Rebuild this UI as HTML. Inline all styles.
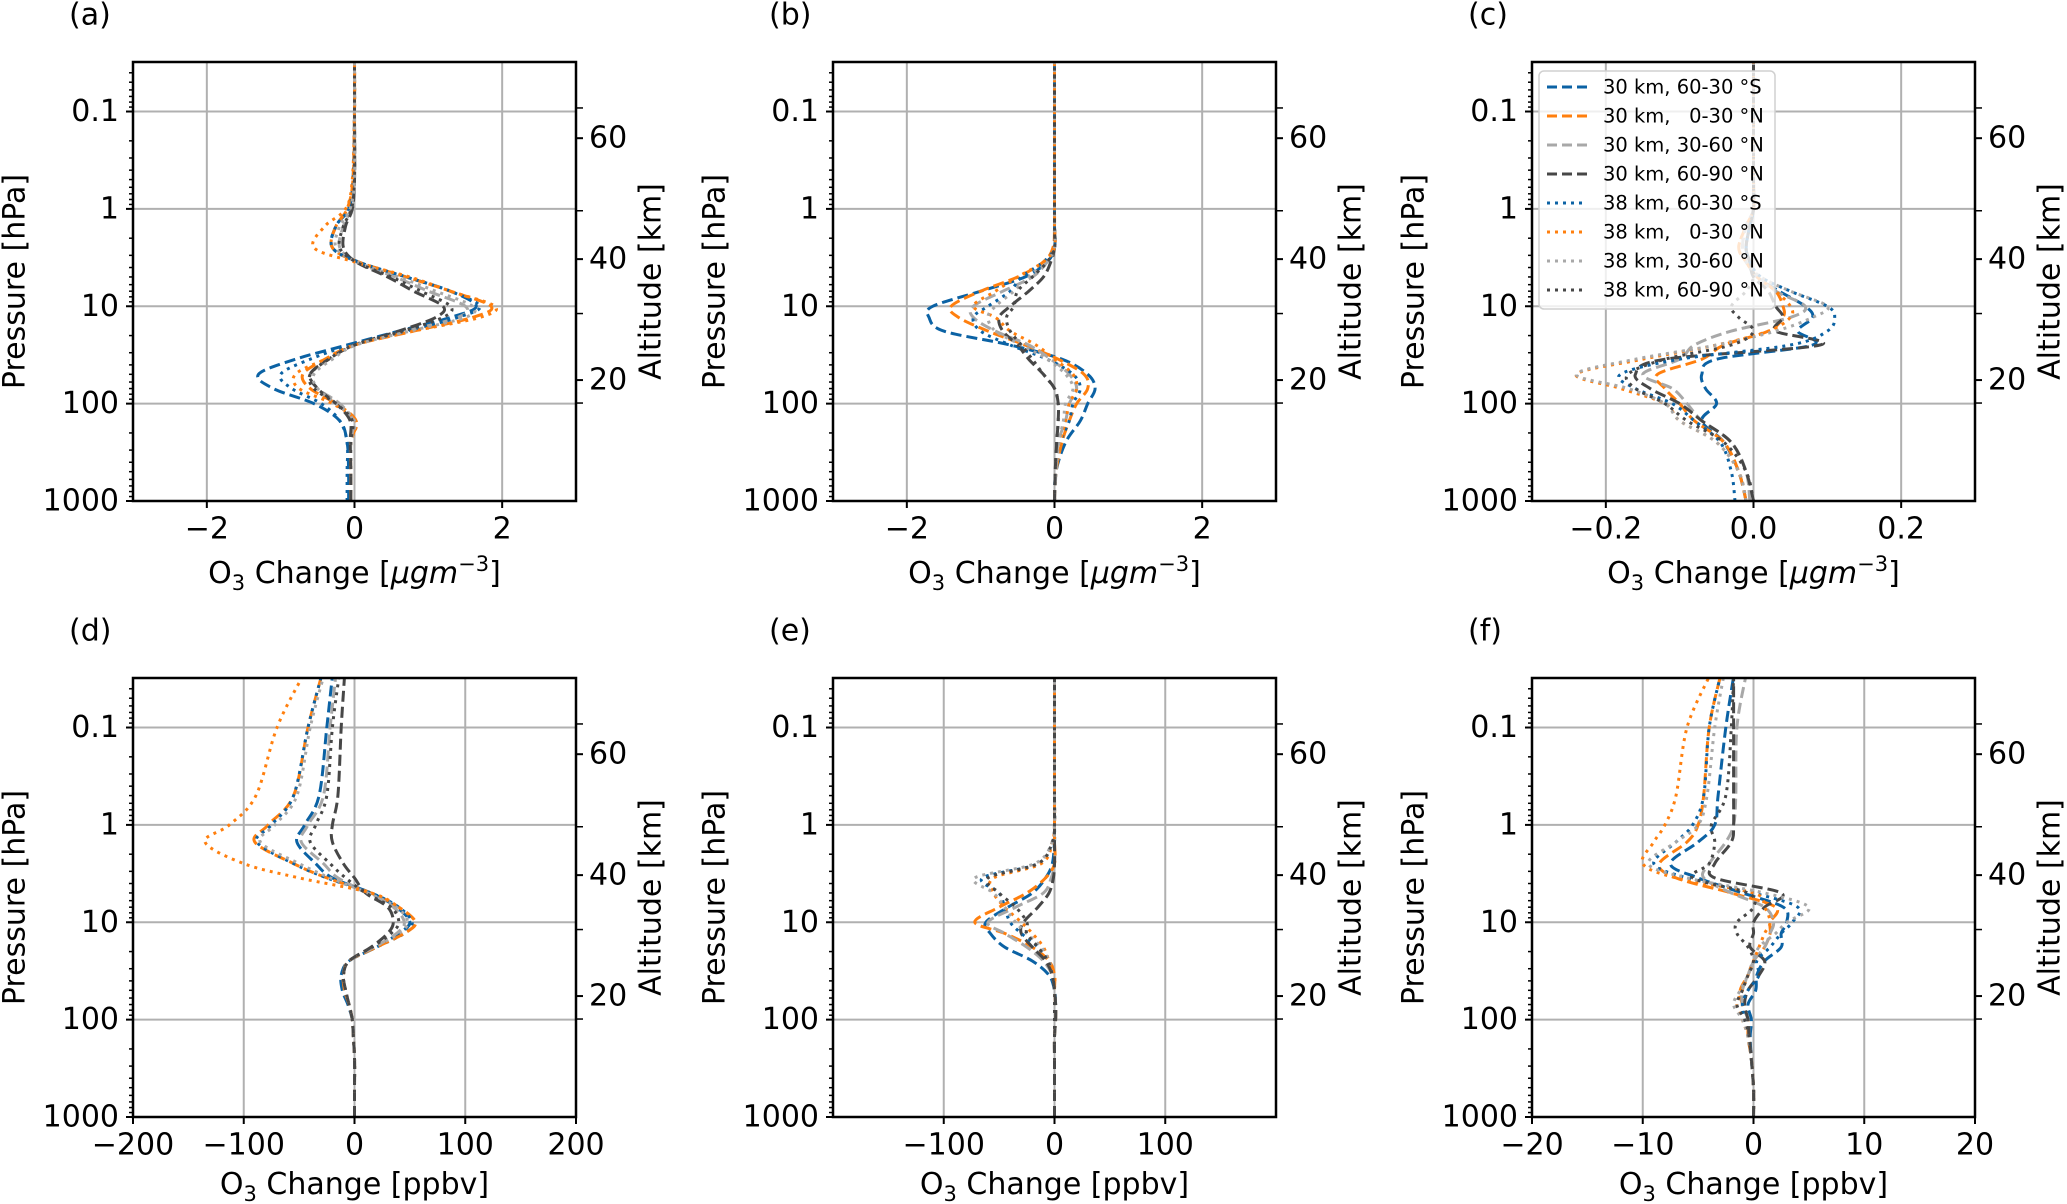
<!DOCTYPE html>
<html><head><meta charset="utf-8"><style>
html,body{margin:0;padding:0;background:#fff;}
svg{display:block;font-family:"DejaVu Sans","Liberation Sans",sans-serif;}
</style></head><body>
<svg id="fig" width="2067" height="1204" viewBox="0 0 2067 1204" xmlns="http://www.w3.org/2000/svg"></svg>
<script>
const levels = [1000,500,250,150,100,70,50,35,25,18,13,10,7,5,3.5,2.5,1.5,1,0.5,0.1,0.03];
const seriesLabels = ["30 km, 60-30 °S","30 km,   0-30 °N","30 km, 30-60 °N","30 km, 60-90 °N","38 km, 60-30 °S","38 km,   0-30 °N","38 km, 30-60 °N","38 km, 60-90 °N"];
const panelAValues = [
 [-0.08,-0.08,-0.1,-0.2,-0.55,-1.1,-1.3,-0.8,-0.1,0.6,1.3,1.65,1.3,0.7,0.05,-0.3,-0.25,-0.08,-0.02,0,0],
 [-0.05,-0.05,-0.05,0.02,-0.25,-0.6,-0.7,-0.4,0.0,0.8,1.6,1.85,1.3,0.7,0.05,-0.3,-0.25,-0.1,-0.02,0,0],
 [-0.05,-0.05,-0.05,-0.02,-0.2,-0.5,-0.6,-0.35,0.0,0.7,1.4,1.5,1.0,0.55,0.03,-0.2,-0.15,-0.05,0,0,0],
 [-0.05,-0.05,-0.06,-0.06,-0.25,-0.5,-0.6,-0.35,0.0,0.6,1.1,1.2,0.8,0.45,0.02,-0.15,-0.12,-0.03,0,0,0],
 [-0.1,-0.1,-0.1,-0.2,-0.45,-0.85,-1.0,-0.6,-0.05,0.7,1.4,1.7,1.3,0.7,0.05,-0.3,-0.25,-0.08,-0.02,0,0],
 [-0.05,-0.05,-0.05,0.02,-0.3,-0.75,-0.8,-0.4,0.0,0.8,1.7,1.9,1.3,0.75,0.0,-0.55,-0.4,-0.12,-0.03,0,0],
 [-0.05,-0.05,-0.05,0,-0.25,-0.5,-0.55,-0.3,0.02,0.75,1.5,1.6,1.1,0.6,0.03,-0.25,-0.2,-0.06,0,0,0],
 [-0.05,-0.05,-0.05,-0.03,-0.25,-0.55,-0.6,-0.35,0.0,0.65,1.2,1.3,0.9,0.5,0.02,-0.2,-0.15,-0.04,0,0,0]];
const panelBValues = [
 [0,0.02,0.15,0.35,0.45,0.55,0.45,0.1,-0.6,-1.5,-1.7,-1.65,-1.0,-0.4,-0.1,0,0,0,0,0,0],
 [0,0.02,0.1,0.2,0.3,0.45,0.4,0.05,-0.4,-0.9,-1.3,-1.4,-1.0,-0.5,-0.15,-0.02,0,0,0,0,0],
 [0,0.02,0.05,0.15,0.2,0.3,0.2,-0.05,-0.35,-0.8,-1.1,-1.1,-0.7,-0.3,-0.1,0,0,0,0,0,0],
 [0,0.01,0.03,0.05,0.05,0.0,-0.15,-0.35,-0.5,-0.7,-0.75,-0.6,-0.35,-0.15,-0.05,0,0,0,0,0,0],
 [0,0.02,0.08,0.2,0.25,0.35,0.25,-0.1,-0.6,-1.0,-1.1,-0.9,-0.6,-0.45,-0.15,0,0,0,0,0,0],
 [0,0.02,0.08,0.15,0.2,0.3,0.25,0.0,-0.25,-0.6,-0.8,-1.1,-0.8,-0.5,-0.15,0,0,0,0,0,0],
 [0,0.02,0.06,0.12,0.15,0.25,0.15,-0.1,-0.45,-0.8,-0.9,-0.8,-0.55,-0.35,-0.1,0,0,0,0,0,0],
 [0,0.01,0.03,0.05,0.05,0.0,-0.15,-0.3,-0.45,-0.6,-0.65,-0.55,-0.5,-0.3,-0.1,0,0,0,0,0,0]];
const panelCValues = [
 [-0.01,-0.02,-0.04,-0.07,-0.05,-0.065,-0.07,-0.05,0.08,0.06,0.08,0.07,0.035,0.005,-0.005,-0.01,-0.005,0,0,0,0],
 [-0.01,-0.02,-0.04,-0.08,-0.1,-0.12,-0.13,-0.07,-0.04,0.02,0.04,0.04,0.03,0.005,-0.01,-0.02,-0.01,0,0,0,0],
 [-0.005,-0.01,-0.03,-0.07,-0.09,-0.11,-0.15,-0.1,-0.08,-0.03,0.05,0.07,0.03,0.005,-0.01,-0.015,-0.01,0,0,0,0],
 [0,-0.01,-0.03,-0.07,-0.1,-0.14,-0.16,-0.12,0.09,0.03,0.04,0.03,0.02,0,-0.005,-0.01,-0.005,0,0,0,0],
 [-0.025,-0.03,-0.045,-0.08,-0.11,-0.16,-0.18,-0.1,0.05,0.1,0.11,0.1,0.05,0.01,-0.005,-0.01,-0.005,0,0,0,0],
 [-0.01,-0.02,-0.05,-0.1,-0.12,-0.18,-0.24,-0.15,-0.05,0.02,0.05,0.05,0.03,0.005,-0.01,-0.02,-0.01,0,0,0,0],
 [-0.01,-0.02,-0.05,-0.1,-0.12,-0.17,-0.24,-0.16,-0.05,0.03,0.08,0.1,0.05,0.01,-0.01,-0.015,-0.01,0,0,0,0],
 [0,-0.01,-0.04,-0.09,-0.12,-0.16,-0.17,-0.12,-0.03,0.0,-0.02,-0.03,-0.01,0,-0.005,-0.01,-0.005,0,0,0,0]];
const panelDValues = [
 [0,0,0,-1,-2,-6,-11,-12,-5,20,40,50,38,15,-20,-35,-52,-45,-32,-25,-20],
 [0,0,0,-1,-2,-5,-9,-10,-5,20,45,55,40,15,-25,-55,-90,-78,-55,-42,-30],
 [0,0,0,-1,-2,-5,-8,-10,-5,18,38,45,35,12,-15,-28,-48,-42,-28,-22,-17],
 [0,0,0,-1,-2,-5,-8,-10,-5,15,30,35,30,10,0,-10,-20,-20,-15,-12,-9],
 [0,0,0,-1,-2,-5,-9,-10,-5,20,45,52,40,15,-25,-55,-88,-75,-55,-42,-30],
 [0,0,0,-1,-2,-5,-9,-10,-5,20,45,55,40,15,-50,-100,-135,-113,-89,-70,-47],
 [0,0,0,-1,-2,-5,-8,-10,-5,18,40,48,38,12,-22,-50,-85,-72,-52,-40,-28],
 [0,0,0,-1,-2,-5,-8,-10,-5,16,33,40,33,10,-8,-22,-40,-35,-25,-20,-14]];
const panelEValues = [
 [0,0,0,0,1,1,0,-5,-20,-45,-58,-62,-42,-20,-8,-2,0,0,0,0,0],
 [0,0,0,0,1,1,0,0,-5,-20,-45,-72,-50,-25,-8,0,0,0,0,0,0],
 [0,0,0,0,1,1,0,-2,-10,-25,-45,-60,-35,-10,-3,0,0,0,0,0,0],
 [0,0,0,0,1,1,0,-2,-8,-20,-30,-28,-15,-5,-1,0,0,0,0,0,0],
 [0,0,0,0,0,0,0,-2,-5,-15,-30,-40,-45,-50,-65,-15,-2,0,0,0,0],
 [0,0,0,0,0,0,0,0,-5,-10,-20,-30,-45,-55,-55,-12,-2,0,0,0,0],
 [0,0,0,0,0,0,0,-2,-5,-12,-25,-35,-45,-55,-72,-18,-2,0,0,0,0],
 [0,0,0,0,0,0,0,-2,-6,-15,-25,-25,-35,-50,-60,-15,-2,0,0,0,0]];
const panelFValues = [
 [0,0,-0.2,-0.3,-0.2,-0.5,0.2,0.3,1,2.5,2.5,3,2.7,-1,-5,-7.5,-5,-3.5,-3.2,-2.5,-1.8],
 [0,0,-0.2,-0.5,-0.5,-1,-1.2,-0.5,0,1,1.5,1.5,2,-2,-7,-8.5,-6,-5,-4.5,-4,-3],
 [0,0,-0.2,-0.4,-0.5,-1,-1,-0.5,0,1,1.5,1.8,1,-2,-4.5,-4,-2.5,-1.8,-1.6,-1.5,-0.7],
 [0,0,-0.2,-0.4,-0.5,-0.8,-0.5,0.5,1,-0.3,0,0,1,2.5,-3.5,-3.5,-2,-1.8,-1.8,-1.8,-1.8],
 [0,0,-0.2,-0.5,-0.8,-1,-0.5,0.5,0.3,1.5,2.5,3.5,4,0,-6,-9,-7,-5.5,-4.5,-4,-3],
 [0,0,-0.2,-0.5,-1,-1.5,-1,-0.5,0,0.5,1,1.5,1,0,-7,-10,-9,-8,-7,-6,-4],
 [0,0,-0.2,-0.5,-1,-1.8,-1.2,-0.5,0,0.5,2,3,5,1,-6,-9.5,-7,-5,-4.2,-3.5,-2.7],
 [0,0,-0.2,-0.4,-0.8,-1.5,-1,-0.5,0,-0.5,-1.5,-1.5,0,-0.5,-5.5,-4,-3.5,-3.8,-2.5,-2,-1.8]];
const xTicksA = [-2,0,2], xTicksC = [-0.2,0,0.2], xTicksD = [-200,-100,0,100,200], xTicksE = [-100,0,100], xTicksF = [-20,-10,0,10,20];
const pressureTicks = [0.1,1,10,100,1000];
const altitudeTicks = [20,40,60];

const NS="http://www.w3.org/2000/svg";
const fig=document.getElementById('fig');
function el(tag,attrs,parent){const e=document.createElementNS(NS,tag);for(const k in attrs)e.setAttribute(k,attrs[k]);(parent||fig).appendChild(e);return e;}
const colors=['#0b62a4','#ff7f0e','#a8a8a8','#474747','#0b62a4','#ff7f0e','#a8a8a8','#474747'];
const W=443,H=439,PTOP=0.031,PBOT=1000;
function fmt(v,dec){if(v===0)return dec?'0.0':'0';let s=dec?Math.abs(v).toFixed(1):String(Math.abs(v));return (v<0?'\u2212':'')+s;}

function panel(cfg){
  const L=cfg.left,T=cfg.top,R=L+W,B=T+H;
  const g=el('g',{});
  
  
  const xs=v=>L+(v-cfg.xmin)/(cfg.xmax-cfg.xmin)*W;
  const ys=p=>B-(Math.log10(PBOT)-Math.log10(p))/(Math.log10(PBOT)-Math.log10(PTOP))*H;
  const kmPx=H/72.6;
  cfg.ticks.forEach(t=>{const x=xs(t);const l=el('line',{x1:x,x2:x,y1:T,y2:B,stroke:'#b0b0b0','stroke-width':2},g);});
  pressureTicks.forEach(p=>{const y=ys(p);const l=el('line',{x1:L,x2:R,y1:y,y2:y,stroke:'#b0b0b0','stroke-width':2},g);});
  const cid='clip'+cfg.id;const cp=el('clipPath',{id:cid},g);el('rect',{x:L,y:T,width:W,height:H},cp);
  const lg=el('g',{'clip-path':'url(#'+cid+')'},g);
  cfg.values.forEach((vals,i)=>{
    const pts=vals.map((v,j)=>[xs(v),ys(levels[j])]);
    let d='M'+pts[0][0].toFixed(1)+','+pts[0][1].toFixed(1);
    for(let j=0;j<pts.length-1;j++){const p0=pts[Math.max(0,j-1)],p1=pts[j],p2=pts[j+1],p3=pts[Math.min(pts.length-1,j+2)];
      const c1=[p1[0]+(p2[0]-p0[0])/6,p1[1]+(p2[1]-p0[1])/6],c2=[p2[0]-(p3[0]-p1[0])/6,p2[1]-(p3[1]-p1[1])/6];
      d+=' C'+c1[0].toFixed(1)+','+c1[1].toFixed(1)+' '+c2[0].toFixed(1)+','+c2[1].toFixed(1)+' '+p2[0].toFixed(1)+','+p2[1].toFixed(1);}
    const path=el('path',{d:d,fill:'none',stroke:colors[i],'stroke-width':3,'stroke-dasharray':i<4?'11,5':'3,5'},lg);
    
    
  });
  const sp=el('rect',{x:L,y:T,width:W,height:H,fill:'none',stroke:'#000','stroke-width':2.5},g);
  
  cfg.ticks.forEach(t=>{const x=xs(t);el('line',{x1:x,x2:x,y1:B,y2:B+7,stroke:'#000','stroke-width':2},g);
    const tx=el('text',{x:x,y:B+28,'font-size':30,'text-anchor':'middle','dominant-baseline':'central'},g);tx.textContent=fmt(t,cfg.dec);
    });
  for(let e=-2;e<=3;e++){for(let m=1;m<10;m++){const p=m*Math.pow(10,e);if(p<PTOP||p>PBOT)continue;const y=ys(p);
    el('line',{x1:L,x2:L-(m===1?7:4),y1:y,y2:y,stroke:'#000','stroke-width':m===1?2:1.5},g);}}
  pressureTicks.forEach(p=>{const tx=el('text',{x:L-14,y:ys(p),'font-size':30,'text-anchor':'end','dominant-baseline':'central'},g);tx.textContent=String(p);
    });
  [16.2,31,48,65].forEach(k=>{const y=B-k*kmPx;el('line',{x1:R,x2:R+7,y1:y,y2:y,stroke:'#000','stroke-width':1.5},g);});
  altitudeTicks.forEach(k=>{const y=B-k*kmPx;el('line',{x1:R,x2:R+7,y1:y,y2:y,stroke:'#000','stroke-width':2},g);
    const tx=el('text',{x:R+13,y:y,'font-size':30,'dominant-baseline':'central'},g);tx.textContent=String(k);
    });
  const yl=el('text',{transform:'translate('+(L-118)+','+(T+H/2)+') rotate(-90)','font-size':30,'text-anchor':'middle','dominant-baseline':'central'},g);
  yl.textContent='Pressure [hPa]';
  const al=el('text',{transform:'translate('+(R+75)+','+(T+H/2)+') rotate(-90)','font-size':30,'text-anchor':'middle','dominant-baseline':'central'},g);
  al.textContent='Altitude [km]';
  const xl=el('text',{x:L+W/2,y:B+(cfg.ppbv?77:82),'font-size':30,'text-anchor':'middle'},g);
  
  xl.innerHTML= cfg.ppbv ? 'O<tspan dy="7" font-size="21">3</tspan><tspan dy="-7"> Change [ppbv]</tspan>'
    : 'O<tspan dy="7" font-size="21">3</tspan><tspan dy="-7"> Change [</tspan><tspan font-style="italic">μgm</tspan><tspan dy="-12" font-size="21">−3</tspan><tspan dy="12">]</tspan>';
  const pl=el('text',{x:L-64,y:T-47,'font-size':30,'dominant-baseline':'central'},g);
  pl.textContent='('+cfg.id+')';
}
const cols=[133,833,1532],rows=[62,678];
panel({id:'a',left:cols[0],top:rows[0],xmin:-3,xmax:3,ticks:xTicksA,values:panelAValues});
panel({id:'b',left:cols[1],top:rows[0],xmin:-3,xmax:3,ticks:xTicksA,values:panelBValues});
panel({id:'c',left:cols[2],top:rows[0],xmin:-0.3,xmax:0.3,ticks:xTicksC,dec:true,values:panelCValues});
panel({id:'d',left:cols[0],top:rows[1],xmin:-200,xmax:200,ticks:xTicksD,ppbv:true,values:panelDValues});
panel({id:'e',left:cols[1],top:rows[1],xmin:-200,xmax:200,ticks:xTicksE,ppbv:true,values:panelEValues});
panel({id:'f',left:cols[2],top:rows[1],xmin:-20,xmax:20,ticks:xTicksF,ppbv:true,values:panelFValues});
const lgG=el('g',{});


el('rect',{x:1539,y:71,width:236,height:238,rx:5,fill:'#fff','fill-opacity':0.8,stroke:'#d0d0d0','stroke-width':1.5},lgG);
seriesLabels.forEach((s,i)=>{const y=87+i*29;
  const ln=el('line',{x1:1547,x2:1587,y1:y,y2:y,stroke:colors[i],'stroke-width':3,'stroke-dasharray':i<4?'10,5':'3,5'},lgG);
  
  const t=el('text',{x:1603,y:y,'font-size':19.5,'dominant-baseline':'central','xml:space':'preserve'},lgG);
  t.style.whiteSpace='pre';t.textContent=s;
  });
</script>
</body></html>
